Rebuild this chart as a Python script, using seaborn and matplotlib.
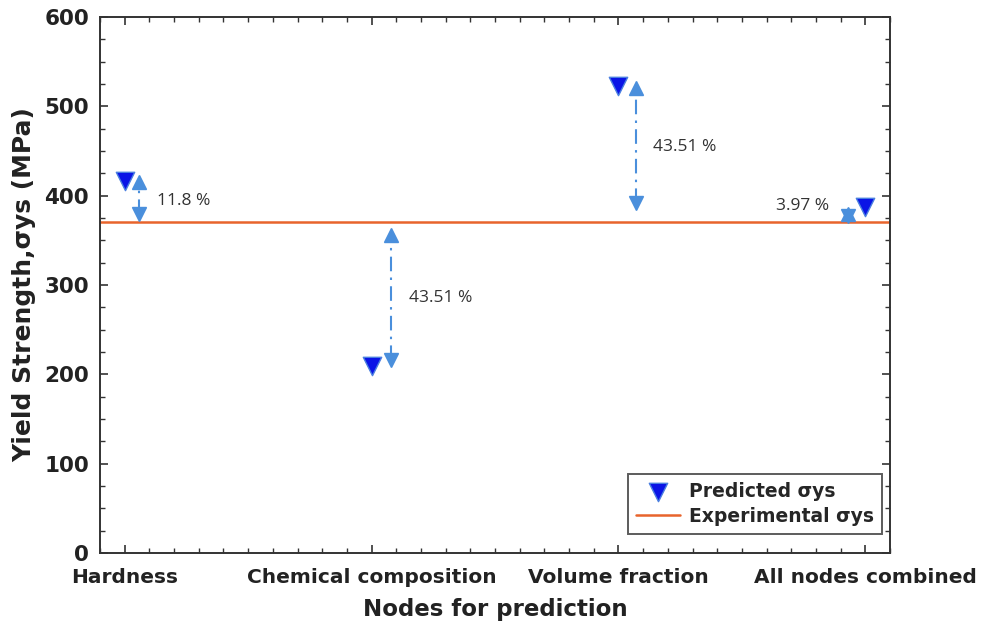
import matplotlib
matplotlib.use("Agg")
import matplotlib.pyplot as plt
import seaborn as sns
import pandas as pd
from matplotlib.ticker import MultipleLocator

categories = ["Hardness", "Chemical composition", "Volume fraction", "All nodes combined"]
predicted = [416, 209, 523, 387]
experimental = 371
arrow_top = [415, 356, 521, 379]
arrow_bottom = [379, 216, 392, 377]
arrow_offset = [0.06, 0.08, 0.07, -0.07]
pct_labels = ["11.8 %", "43.51 %", "43.51 %", "3.97 %"]
label_y = [394, 285, 454, 388]
label_dx = [0.13, 0.15, 0.14, -0.36]
yticks = [0, 100, 200, 300, 400, 500, 600]

sns.set_style("ticks")
plt.rcParams['font.family'] = ['DejaVu Sans']

fig = plt.figure(figsize=(9.92, 6.35), dpi=100)
ax = fig.add_axes([0.1008, 0.1291, 0.7964, 0.8441])

xpos = list(range(1, len(categories) + 1))
df = pd.DataFrame({"x": xpos, "y": predicted})

ax.axhline(experimental, color="#e8642c", lw=1.8, zorder=2, label="Experimental σys")

arrow_color = "#4a8fdc"
for i, x in enumerate(xpos):
    xa = x + arrow_offset[i]
    ax.plot([xa, xa], [arrow_bottom[i], arrow_top[i]], color=arrow_color,
            lw=1.5, ls=(0, (7, 3, 1.2, 3)), zorder=3)
    ax.plot([xa], [arrow_top[i]], marker="^", ms=10.5, color=arrow_color, mec=arrow_color, zorder=4, ls="none")
    ax.plot([xa], [arrow_bottom[i]], marker="v", ms=10.5, color=arrow_color, mec=arrow_color, zorder=4, ls="none")
    ax.text(x + label_dx[i], label_y[i], pct_labels[i], fontsize=12.5, color="#333333",
            family=["Open Sans", "DejaVu Sans"], va="center", ha="left")

sns.scatterplot(data=df, x="x", y="y", marker="v", s=175, color="#0a14e6",
                edgecolor="#4a7fe0", linewidth=1.0, ax=ax, zorder=5, label="Predicted σys")

ax.set_xlim(0.9, 4.1)
ax.set_ylim(0, 600)
ax.set_xticks(xpos)
ax.set_xticklabels(categories)
ax.set_yticks(yticks)
ax.yaxis.set_minor_locator(MultipleLocator(25))
ax.xaxis.set_minor_locator(MultipleLocator(0.1))
ax.tick_params(axis="both", which="both", direction="in", top=True, right=True,
               colors="#333333", labelcolor="#222222")
ax.tick_params(axis="both", which="major", length=6, width=1.2)
ax.tick_params(axis="x", which="major", labelsize=14.5, pad=11)
ax.tick_params(axis="y", which="major", labelsize=15.5, pad=8)
ax.tick_params(axis="both", which="minor", length=3.5, width=1.0)
for lab in ax.get_xticklabels() + ax.get_yticklabels():
    lab.set_fontweight("bold")
for s in ax.spines.values():
    s.set_color("#333333")
    s.set_linewidth(1.4)

ax.set_xlabel("Nodes for prediction", fontsize=16.5, fontweight="bold", color="#222222", labelpad=8)
ax.set_ylabel("Yield Strength,σys (MPa)", fontsize=18, fontweight="bold", color="#222222", labelpad=6)

handles, labels = ax.get_legend_handles_labels()
order = [labels.index("Predicted σys"), labels.index("Experimental σys")]
leg = ax.legend([handles[i] for i in order], [labels[i] for i in order], loc="lower right",
                bbox_to_anchor=(0.995, 0.028), frameon=True, fancybox=False,
                prop={"weight": "bold", "size": 13.5}, handlelength=2.3, borderpad=0.45,
                labelspacing=0.3, handletextpad=0.5, borderaxespad=0.2)
leg.get_frame().set_edgecolor("#333333")
leg.get_frame().set_linewidth(1.4)

fig.savefig("out.png", dpi=100)
